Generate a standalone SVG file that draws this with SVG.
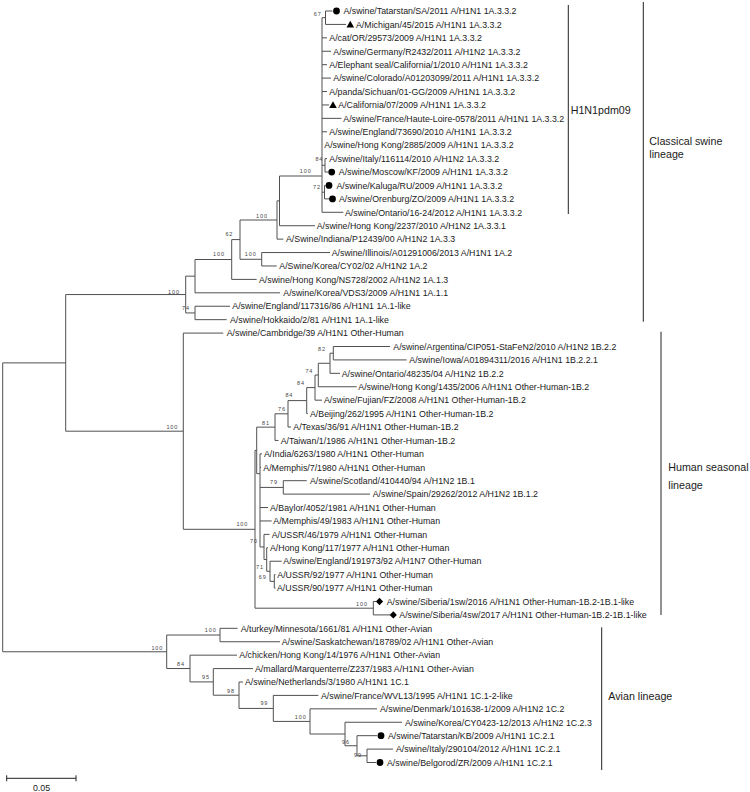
<svg xmlns="http://www.w3.org/2000/svg" xmlns:xlink="http://www.w3.org/1999/xlink" width="750" height="792" viewBox="0 0 750 792">
<style>
.t{font-family:"Liberation Sans",Arial,sans-serif;font-size:8.8px;fill:#1a1a1a}
.bs{font-family:"Liberation Sans",Arial,sans-serif;font-size:5.5px;letter-spacing:0.9px;fill:#444;text-anchor:end}
.lab{font-family:"Liberation Sans",Arial,sans-serif;font-size:10.7px;fill:#1a1a1a}
.br{fill:none;stroke:#505050;stroke-width:1}
.cl{fill:none;stroke:#222;stroke-width:1}
.m{fill:#000}
</style>
<defs>
<circle id="dot" r="3.4"/>
<path id="tri" d="M0,-3.6 L3.8,3 L-3.8,3Z"/>
<path id="dia" d="M0,-3.7 L3.6,0 L0,3.7 L-3.6,0Z"/>
</defs>
<rect width="750" height="792" fill="#fff"/>
<g id="connectors" class="br">
<path d="M322,17.7V212.3M322,17.7H325.5M325.5,11V24.42M325.5,11H332.5M325.5,24.42H346M322,37.84H327M322,51.26H331M322,64.68H327M322,78.1H331M322,91.52H327M322,104.94H329M322,118.36H341.5M322,131.78H327M322,165.3H325M325,158.62V172.04M325,158.62H327M325,172.04H328M322,192.2H324.5M324.5,185.46V198.88M324.5,185.46H325.5M324.5,198.88H329.5M322,212.3H343.3M279.5,176H322"/>
<path d="M279.5,176V225.72M279.5,225.72H315M277,200.86H279.5M277,200.86V239.14M277,239.14H283.3M240,220H277M240,220V259.27M240,259.27H261.7M261.7,252.56V265.98M261.7,252.56H330M261.7,265.98H276.7M231.7,239.6H240M231.7,239.6V279.4M231.7,279.4H256.7M195,259.5H231.7M195,259.5V292.82M195,292.82H280M195,306.24V319.66M195,306.24H230M195,319.66H226.7M185.7,276.16H195M185.7,312.95H195M185.7,276.16V312.95M65.7,294.56H185.7M65.7,294.56V431.19M65.7,431.19H183.3M2.7,362.88H65.7M2.7,362.88V651.78"/>
<path d="M183.3,333.08V529.3M183.3,333.08H223.3M183.3,529.3H255M255,450.4V608.19M255,450.4H256.7M255,608.19H373.3M373.3,601.48V614.9M373.3,601.48H376M373.3,614.9H390M256.7,427.13V473.7M256.7,473.7H260M256.7,427.13H275M275,413.81V440.44M275,440.44H278.5M275,413.81H288M288,400.6V427.02M288,427.02H291M288,400.6H306.7M306.7,387.6V413.6M306.7,413.6H307.8M306.7,387.6H315M315,375.02V400.18M315,400.18H322M315,375.02H318.3M318.3,363.28V386.76M318.3,386.76H356.7M318.3,363.28H330M330,353.21V373.34M330,373.34H340M330,353.21H333.3M333.3,346.5V359.92M333.3,346.5H390M333.3,359.92H406.7"/>
<path d="M260,453.86V546.96M260,453.86H262M260,467.28H261M260,487.41H283.3M283.3,480.7V494.12M283.3,480.7H306.7M283.3,494.12H370M260,507.54H268M260,520.96H271.7M260,546.96H264M264,534.38V559.54M264,534.38H269.5M264,559.54H266.7M266.7,547.8V571.29M266.7,547.8H268M266.7,571.29H270M270,561.22V581.35M270,561.22H281.7M270,581.35H274.3M274.3,574.64V588.06M274.3,574.64H275.5M274.3,588.06H275.5"/>
<path d="M2.7,651.78H166.7M166.7,635.03V668.53M166.7,635.03H220M220,628.32V641.74M220,628.32H237.5M220,641.74H280M166.7,668.53H190M190,655.16V681.9M190,655.16H237M190,681.9H213.3M213.3,668.58V695.21M213.3,668.58H253M213.3,695.21H239M239,682V708.42M239,682H243M239,708.42H273.3M273.3,695.42V721.42M273.3,695.42H318.3M273.3,721.42H310M310,708.84V734M310,708.84H377M310,734H345M345,722.26V745.75M345,722.26H402M345,745.75H357M357,735.68V755.81M357,735.68H377M357,755.81H367M367,749.1V762.52M367,749.1H393M367,762.52H376"/>
</g>
<g id="bootstrap">
<text class="bs" x="321.7" y="16">67</text>
<text class="bs" x="323.3" y="161">84</text>
<text class="bs" x="311.7" y="172.7">100</text>
<text class="bs" x="321" y="188.7">72</text>
<text class="bs" x="268" y="217.7">100</text>
<text class="bs" x="233.3" y="236.3">62</text>
<text class="bs" x="256.7" y="256">100</text>
<text class="bs" x="225" y="256">100</text>
<text class="bs" x="180" y="293.7">100</text>
<text class="bs" x="190" y="310.3">74</text>
<text class="bs" x="178.3" y="429">100</text>
<text class="bs" x="326" y="351.3">82</text>
<text class="bs" x="313.3" y="372.7">74</text>
<text class="bs" x="305" y="384.7">84</text>
<text class="bs" x="293.3" y="397">84</text>
<text class="bs" x="286" y="411.3">76</text>
<text class="bs" x="270" y="424.5">81</text>
<text class="bs" x="278" y="484.3">79</text>
<text class="bs" x="248.3" y="526.3">100</text>
<text class="bs" x="258" y="542.7">70</text>
<text class="bs" x="264" y="568.7">71</text>
<text class="bs" x="266.7" y="578.7">69</text>
<text class="bs" x="368" y="606">100</text>
<text class="bs" x="163.3" y="649.7">100</text>
<text class="bs" x="216.7" y="632">100</text>
<text class="bs" x="185" y="666">84</text>
<text class="bs" x="210" y="678.7">95</text>
<text class="bs" x="235" y="692.7">98</text>
<text class="bs" x="268.3" y="705.3">99</text>
<text class="bs" x="306.7" y="719.3">100</text>
<text class="bs" x="350" y="744">96</text>
<text class="bs" x="362" y="757">99</text>
</g>
<g id="leaves" class="t">
<g id="n0"><use href="#dot" class="m" x="336.5" y="11"/><text x="343.5" y="14.2">A/swine/Tatarstan/SA/2011 A/H1N1 1A.3.3.2</text></g>
<g id="n1"><use href="#tri" class="m" x="350.3" y="24.42"/><text x="356" y="27.6">A/Michigan/45/2015 A/H1N1 1A.3.3.2</text></g>
<g id="n2"><text x="329.3" y="41">A/cat/OR/29573/2009 A/H1N1 1A.3.3.2</text></g>
<g id="n3"><text x="333.3" y="54.5">A/swine/Germany/R2432/2011 A/H1N2 1A.3.3.2</text></g>
<g id="n4"><text x="329.3" y="67.9">A/Elephant seal/California/1/2010 A/H1N1 1A.3.3.2</text></g>
<g id="n5"><text x="333.3" y="81.3">A/swine/Colorado/A01203099/2011 A/H1N1 1A.3.3.2</text></g>
<g id="n6"><text x="329.3" y="94.7">A/panda/Sichuan/01-GG/2009 A/H1N1 1A.3.3.2</text></g>
<g id="n7"><use href="#tri" class="m" x="333" y="104.94"/><text x="338.3" y="108.1">A/California/07/2009 A/H1N1 1A.3.3.2</text></g>
<g id="n8"><text x="343.3" y="121.6">A/swine/France/Haute-Loire-0578/2011 A/H1N1 1A.3.3.2</text></g>
<g id="n9"><text x="329.3" y="135">A/swine/England/73690/2010 A/H1N1 1A.3.3.2</text></g>
<g id="n10"><text x="324.3" y="148.4">A/swine/Hong Kong/2885/2009 A/H1N1 1A.3.3.2</text></g>
<g id="n11"><text x="329.3" y="161.8">A/swine/Italy/116114/2010 A/H1N2 1A.3.3.2</text></g>
<g id="n12"><use href="#dot" class="m" x="331.7" y="172.04"/><text x="338.8" y="175.2">A/swine/Moscow/KF/2009 A/H1N1 1A.3.3.2</text></g>
<g id="n13"><use href="#dot" class="m" x="329" y="185.46"/><text x="336.5" y="188.7">A/swine/Kaluga/RU/2009 A/H1N1 1A.3.3.2</text></g>
<g id="n14"><use href="#dot" class="m" x="332.5" y="198.88"/><text x="339" y="202.1">A/swine/Orenburg/ZO/2009 A/H1N1 1A.3.3.2</text></g>
<g id="n15"><text x="345" y="215.5">A/swine/Ontario/16-24/2012 A/H1N1 1A.3.3.2</text></g>
<g id="n16"><text x="316.7" y="228.9">A/swine/Hong Kong/2237/2010 A/H1N2 1A.3.3.1</text></g>
<g id="n17"><text x="286" y="242.3">A/Swine/Indiana/P12439/00 A/H1N2 1A.3.3</text></g>
<g id="n18"><text x="331.7" y="255.8">A/swine/Illinois/A01291006/2013 A/H1N1 1A.2</text></g>
<g id="n19"><text x="279.3" y="269.2">A/Swine/Korea/CY02/02 A/H1N2 1A.2</text></g>
<g id="n20"><text x="259" y="282.6">A/swine/Hong Kong/NS728/2002 A/H1N2 1A.1.3</text></g>
<g id="n21"><text x="283.3" y="296">A/swine/Korea/VDS3/2009 A/H1N1 1A.1.1</text></g>
<g id="n22"><text x="232.3" y="309.4">A/swine/England/117316/86 A/H1N1 1A.1-like</text></g>
<g id="n23"><text x="230" y="322.9">A/swine/Hokkaido/2/81 A/H1N1 1A.1-like</text></g>
<g id="n24"><text x="226.7" y="336.3">A/swine/Cambridge/39 A/H1N1 Other-Human</text></g>
<g id="n25"><text x="393.3" y="349.7">A/swine/Argentina/CIP051-StaFeN2/2010 A/H1N2 1B.2.2</text></g>
<g id="n26"><text x="409.3" y="363.1">A/swine/Iowa/A01894311/2016 A/H1N1 1B.2.2.1</text></g>
<g id="n27"><text x="341.7" y="376.5">A/swine/Ontario/48235/04 A/H1N2 1B.2.2</text></g>
<g id="n28"><text x="358.3" y="390">A/swine/Hong Kong/1435/2006 A/H1N1 Other-Human-1B.2</text></g>
<g id="n29"><text x="324" y="403.4">A/swine/Fujian/FZ/2008 A/H1N1 Other-Human-1B.2</text></g>
<g id="n30"><text x="310" y="416.8">A/Beijing/262/1995 A/H1N1 Other-Human-1B.2</text></g>
<g id="n31"><text x="293.3" y="430.2">A/Texas/36/91 A/H1N1 Other-Human-1B.2</text></g>
<g id="n32"><text x="280.7" y="443.6">A/Taiwan/1/1986 A/H1N1 Other-Human-1B.2</text></g>
<g id="n33"><text x="264" y="457.1">A/India/6263/1980 A/H1N1 Other-Human</text></g>
<g id="n34"><text x="263.3" y="470.5">A/Memphis/7/1980 A/H1N1 Other-Human</text></g>
<g id="n35"><text x="310" y="483.9">A/swine/Scotland/410440/94 A/H1N2 1B.1</text></g>
<g id="n36"><text x="372.7" y="497.3">A/swine/Spain/29262/2012 A/H1N2 1B.1.2</text></g>
<g id="n37"><text x="270" y="510.7">A/Baylor/4052/1981 A/H1N1 Other-Human</text></g>
<g id="n38"><text x="273.3" y="524.2">A/Memphis/49/1983 A/H1N1 Other-Human</text></g>
<g id="n39"><text x="271.7" y="537.6">A/USSR/46/1979 A/H1N1 Other-Human</text></g>
<g id="n40"><text x="270" y="551">A/Hong Kong/117/1977 A/H1N1 Other-Human</text></g>
<g id="n41"><text x="283.3" y="564.4">A/swine/England/191973/92 A/H1N7 Other-Human</text></g>
<g id="n42"><text x="277.3" y="577.8">A/USSR/92/1977 A/H1N1 Other-Human</text></g>
<g id="n43"><text x="277" y="591.3">A/USSR/90/1977 A/H1N1 Other-Human</text></g>
<g id="n44"><use href="#dia" class="m" x="379.5" y="601.48"/><text x="386.7" y="604.7">A/swine/Siberia/1sw/2016 A/H1N1 Other-Human-1B.2-1B.1-like</text></g>
<g id="n45"><use href="#dia" class="m" x="393.3" y="614.9"/><text x="399.3" y="618.1">A/swine/Siberia/4sw/2017 A/H1N1 Other-Human-1B.2-1B.1-like</text></g>
<g id="n46"><text x="240.7" y="631.5">A/turkey/Minnesota/1661/81 A/H1N1 Other-Avian</text></g>
<g id="n47"><text x="281.7" y="644.9">A/swine/Saskatchewan/18789/02 A/H1N1 Other-Avian</text></g>
<g id="n48"><text x="239.3" y="658.4">A/chicken/Hong Kong/14/1976 A/H1N1 Other-Avian</text></g>
<g id="n49"><text x="255" y="671.8">A/mallard/Marquenterre/Z237/1983 A/H1N1 Other-Avian</text></g>
<g id="n50"><text x="245" y="685.2">A/swine/Netherlands/3/1980 A/H1N1 1C.1</text></g>
<g id="n51"><text x="321" y="698.6">A/swine/France/WVL13/1995 A/H1N1 1C.1-2-like</text></g>
<g id="n52"><text x="380" y="712">A/swine/Denmark/101638-1/2009 A/H1N2 1C.2</text></g>
<g id="n53"><text x="405" y="725.5">A/swine/Korea/CY0423-12/2013 A/H1N2 1C.2.3</text></g>
<g id="n54"><use href="#dot" class="m" x="381" y="735.68"/><text x="388" y="738.9">A/swine/Tatarstan/KB/2009 A/H1N1 1C.2.1</text></g>
<g id="n55"><text x="396" y="752.3">A/swine/Italy/290104/2012 A/H1N1 1C.2.1</text></g>
<g id="n56"><use href="#dot" class="m" x="380" y="762.52"/><text x="387" y="765.7">A/swine/Belgorod/ZR/2009 A/H1N1 1C.2.1</text></g>
</g>
<g id="clade-h1n1pdm09"><path class="cl" d="M568.3,5V214"/><text class="lab" x="570.7" y="114">H1N1pdm09</text></g>
<g id="clade-classical"><path class="cl" d="M643.3,2V321.7"/><text class="lab" x="649.3" y="145">Classical swine</text><text class="lab" x="649.3" y="157.5">lineage</text></g>
<g id="clade-human"><path class="cl" d="M661,331.7V615"/><text class="lab" x="668.3" y="471">Human seasonal</text><text class="lab" x="668.3" y="488.5">lineage</text></g>
<g id="clade-avian"><path class="cl" d="M601.7,627.3V770"/><text class="lab" x="608.3" y="700">Avian lineage</text></g>
<g id="scale"><path class="cl" d="M6.7,778.3H76M6.7,775.3V781.3M76,775.3V781.3"/><text class="t" x="41.5" y="790.5" text-anchor="middle">0.05</text></g>
</svg>
